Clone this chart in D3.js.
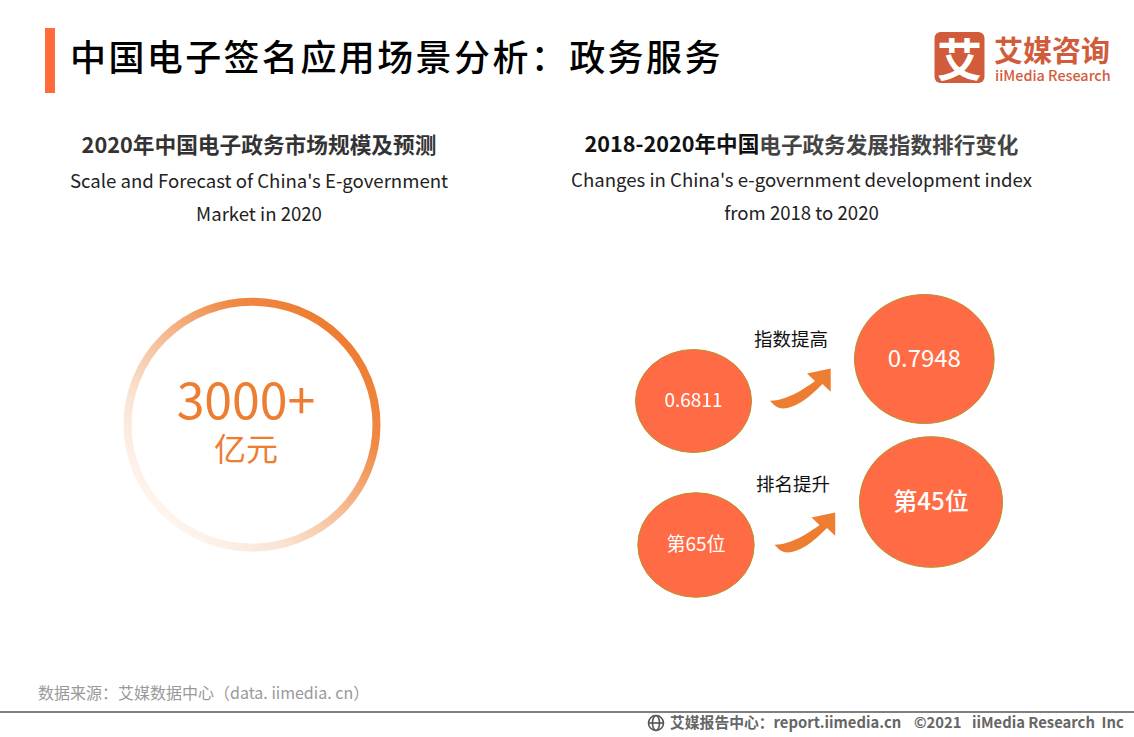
<!DOCTYPE html>
<html><head><meta charset="utf-8">
<script src="https://cdn.jsdelivr.net/npm/d3@7"></script>
<style>html,body{margin:0;padding:0;background:#fff;overflow:hidden}text{font-family:"Noto Sans CJK SC","Noto Sans",sans-serif}</style>
</head><body><svg id="c" width="1134" height="737"></svg>
<script>
const mainTitle = "中国电子签名应用场景分析：政务服务";
const leftTitle = "2020年中国电子政务市场规模及预测";
const leftSub = ["Scale and Forecast of China's E-government","Market in 2020"];
const rightTitleA = "2018-2020年中国";
const rightTitleB = "电子政务发展指数排行变化";
const rightSub = ["Changes in China's e-government development index","from 2018 to 2020"];
const marketValue = "3000+";
const marketUnit = "亿元";
const beforeLabels = ["0.6811","第65位"];
const afterLabels = ["0.7948","第45位"];
const changeLabels = ["指数提高","排名提升"];
const sourceText = "数据来源：艾媒数据中心（data. iimedia. cn）";
const footerText = "艾媒报告中心：report.iimedia.cn";
const footerRight = ["©2021","iiMedia Research  Inc"];

const svg = d3.select("#c");
const defs = svg.append("defs");
const g = defs.append("linearGradient").attr("id","ring").attr("gradientUnits","userSpaceOnUse")
  .attr("x1",345).attr("y1",335).attr("x2",165).attr("y2",520);
[[0,"#ee7c31"],[0.22,"#ef8a45"],[0.5,"#f6bd96"],[0.75,"#fae3d3"],[1,"#fef6f0"]].forEach(s=>g.append("stop").attr("offset",s[0]).attr("stop-color",s[1]));

function text(x,y,s,size,fill,opt={}){
  const t = svg.append("text").attr("x",x).attr("y",y).attr("font-size",size).attr("fill",fill)
    .attr("text-anchor",opt.anchor||"start").attr("dominant-baseline","central")
    .attr("font-weight",opt.weight||400).text(s);
  if(opt.ls) t.attr("letter-spacing",opt.ls);
  return t;
}
// header
svg.append("rect").attr("x",45).attr("y",28).attr("width",10).attr("height",65).attr("fill","#ff6b3a");
text(70,55,mainTitle,36,"#000",{ls:"2.4px",weight:500});
// logo
svg.append("rect").attr("x",934.5).attr("y",32).attr("width",50).attr("height",51).attr("rx",6).attr("fill","#d15c3c");
text(959.5,57,"艾",45,"#fff",{anchor:"middle",weight:700});
text(994,49,"艾媒咨询",29,"#d15c3c",{weight:700});
text(995,74,"iiMedia Research",14.4,"#d15c3c",{weight:500});
// sub-headers
text(259,143.5,leftTitle,21.7,"#333",{anchor:"middle",weight:700});
leftSub.forEach((s,i)=>text(259,179+i*33,s,18.6,"#222",{anchor:"middle"}));
const rt = text(801.5,142.5,rightTitleA,21.6,"#111",{anchor:"middle",weight:700});
rt.append("tspan").attr("fill","#444").text(rightTitleB);
rightSub.forEach((s,i)=>text(801.5,178+i*33,s,18.6,"#222",{anchor:"middle"}));
// ring
svg.append("ellipse").attr("cx",252).attr("cy",424.7).attr("rx",124.5).attr("ry",123)
  .attr("fill","none").attr("stroke","url(#ring)").attr("stroke-width",8);
text(246,397,marketValue,50,"#ed7d31",{anchor:"middle"});
text(246,447,marketUnit,32,"#ed7d31",{anchor:"middle"});
// bubbles
const bubbleShapes = [
 {cx:693.5,cy:401,rx:58.5,ry:52,size:19,label:beforeLabels[0],w:400},
 {cx:924.3,cy:359,rx:70.3,ry:65,size:24,label:afterLabels[0],w:400},
 {cx:696,cy:545,rx:58.7,ry:52.8,size:19,label:beforeLabels[1],w:400},
 {cx:931,cy:502,rx:72,ry:65.8,size:24,label:afterLabels[1],w:500}];
svg.selectAll("ellipse.b").data(bubbleShapes).join("ellipse").attr("class","b")
  .attr("cx",d=>d.cx).attr("cy",d=>d.cy).attr("rx",d=>d.rx-.5).attr("ry",d=>d.ry-.5)
  .attr("fill","#ff6b45").attr("stroke","#b8922a").attr("stroke-width",1);
bubbleShapes.forEach(d=>text(d.cx,d.cy-3,d.label,d.size,"#fff",{anchor:"middle",weight:d.w}));
// arrows
const arrow = "M770 400.7 C785 401 803 390 815 381 L807 373.5 L830.7 368.5 L830.7 391.7 L822.5 384 C808 399 795 408 783 408.5 C777 408.5 773 404 770 400.7Z";
[[0,0],[4.5,144]].forEach(t=>svg.append("path").attr("d",arrow).attr("fill","#ed7d31").attr("transform",`translate(${t[0]},${t[1]})`));
text(791,338,changeLabels[0],18.5,"#111",{anchor:"middle"});
text(793,483,changeLabels[1],18.5,"#111",{anchor:"middle"});
// footer
text(38,692,sourceText,16,"#999");
svg.append("rect").attr("x",0).attr("y",711).attr("width",1134).attr("height",2).attr("fill","#808080");
const gl = svg.append("g").attr("transform","translate(656,723)").attr("fill","none").attr("stroke","#555").attr("stroke-width",1.6);
gl.append("circle").attr("r",7.5);
gl.append("ellipse").attr("rx",3.5).attr("ry",7.5);
gl.append("path").attr("d","M-7.5 0H7.5");
text(670,721,footerText,14.8,"#666",{weight:700});
text(914,721,footerRight[0],14.8,"#666",{weight:700});
text(972,721,footerRight[1],14.8,"#666",{weight:700}).attr("xml:space","preserve");
</script></body></html>
